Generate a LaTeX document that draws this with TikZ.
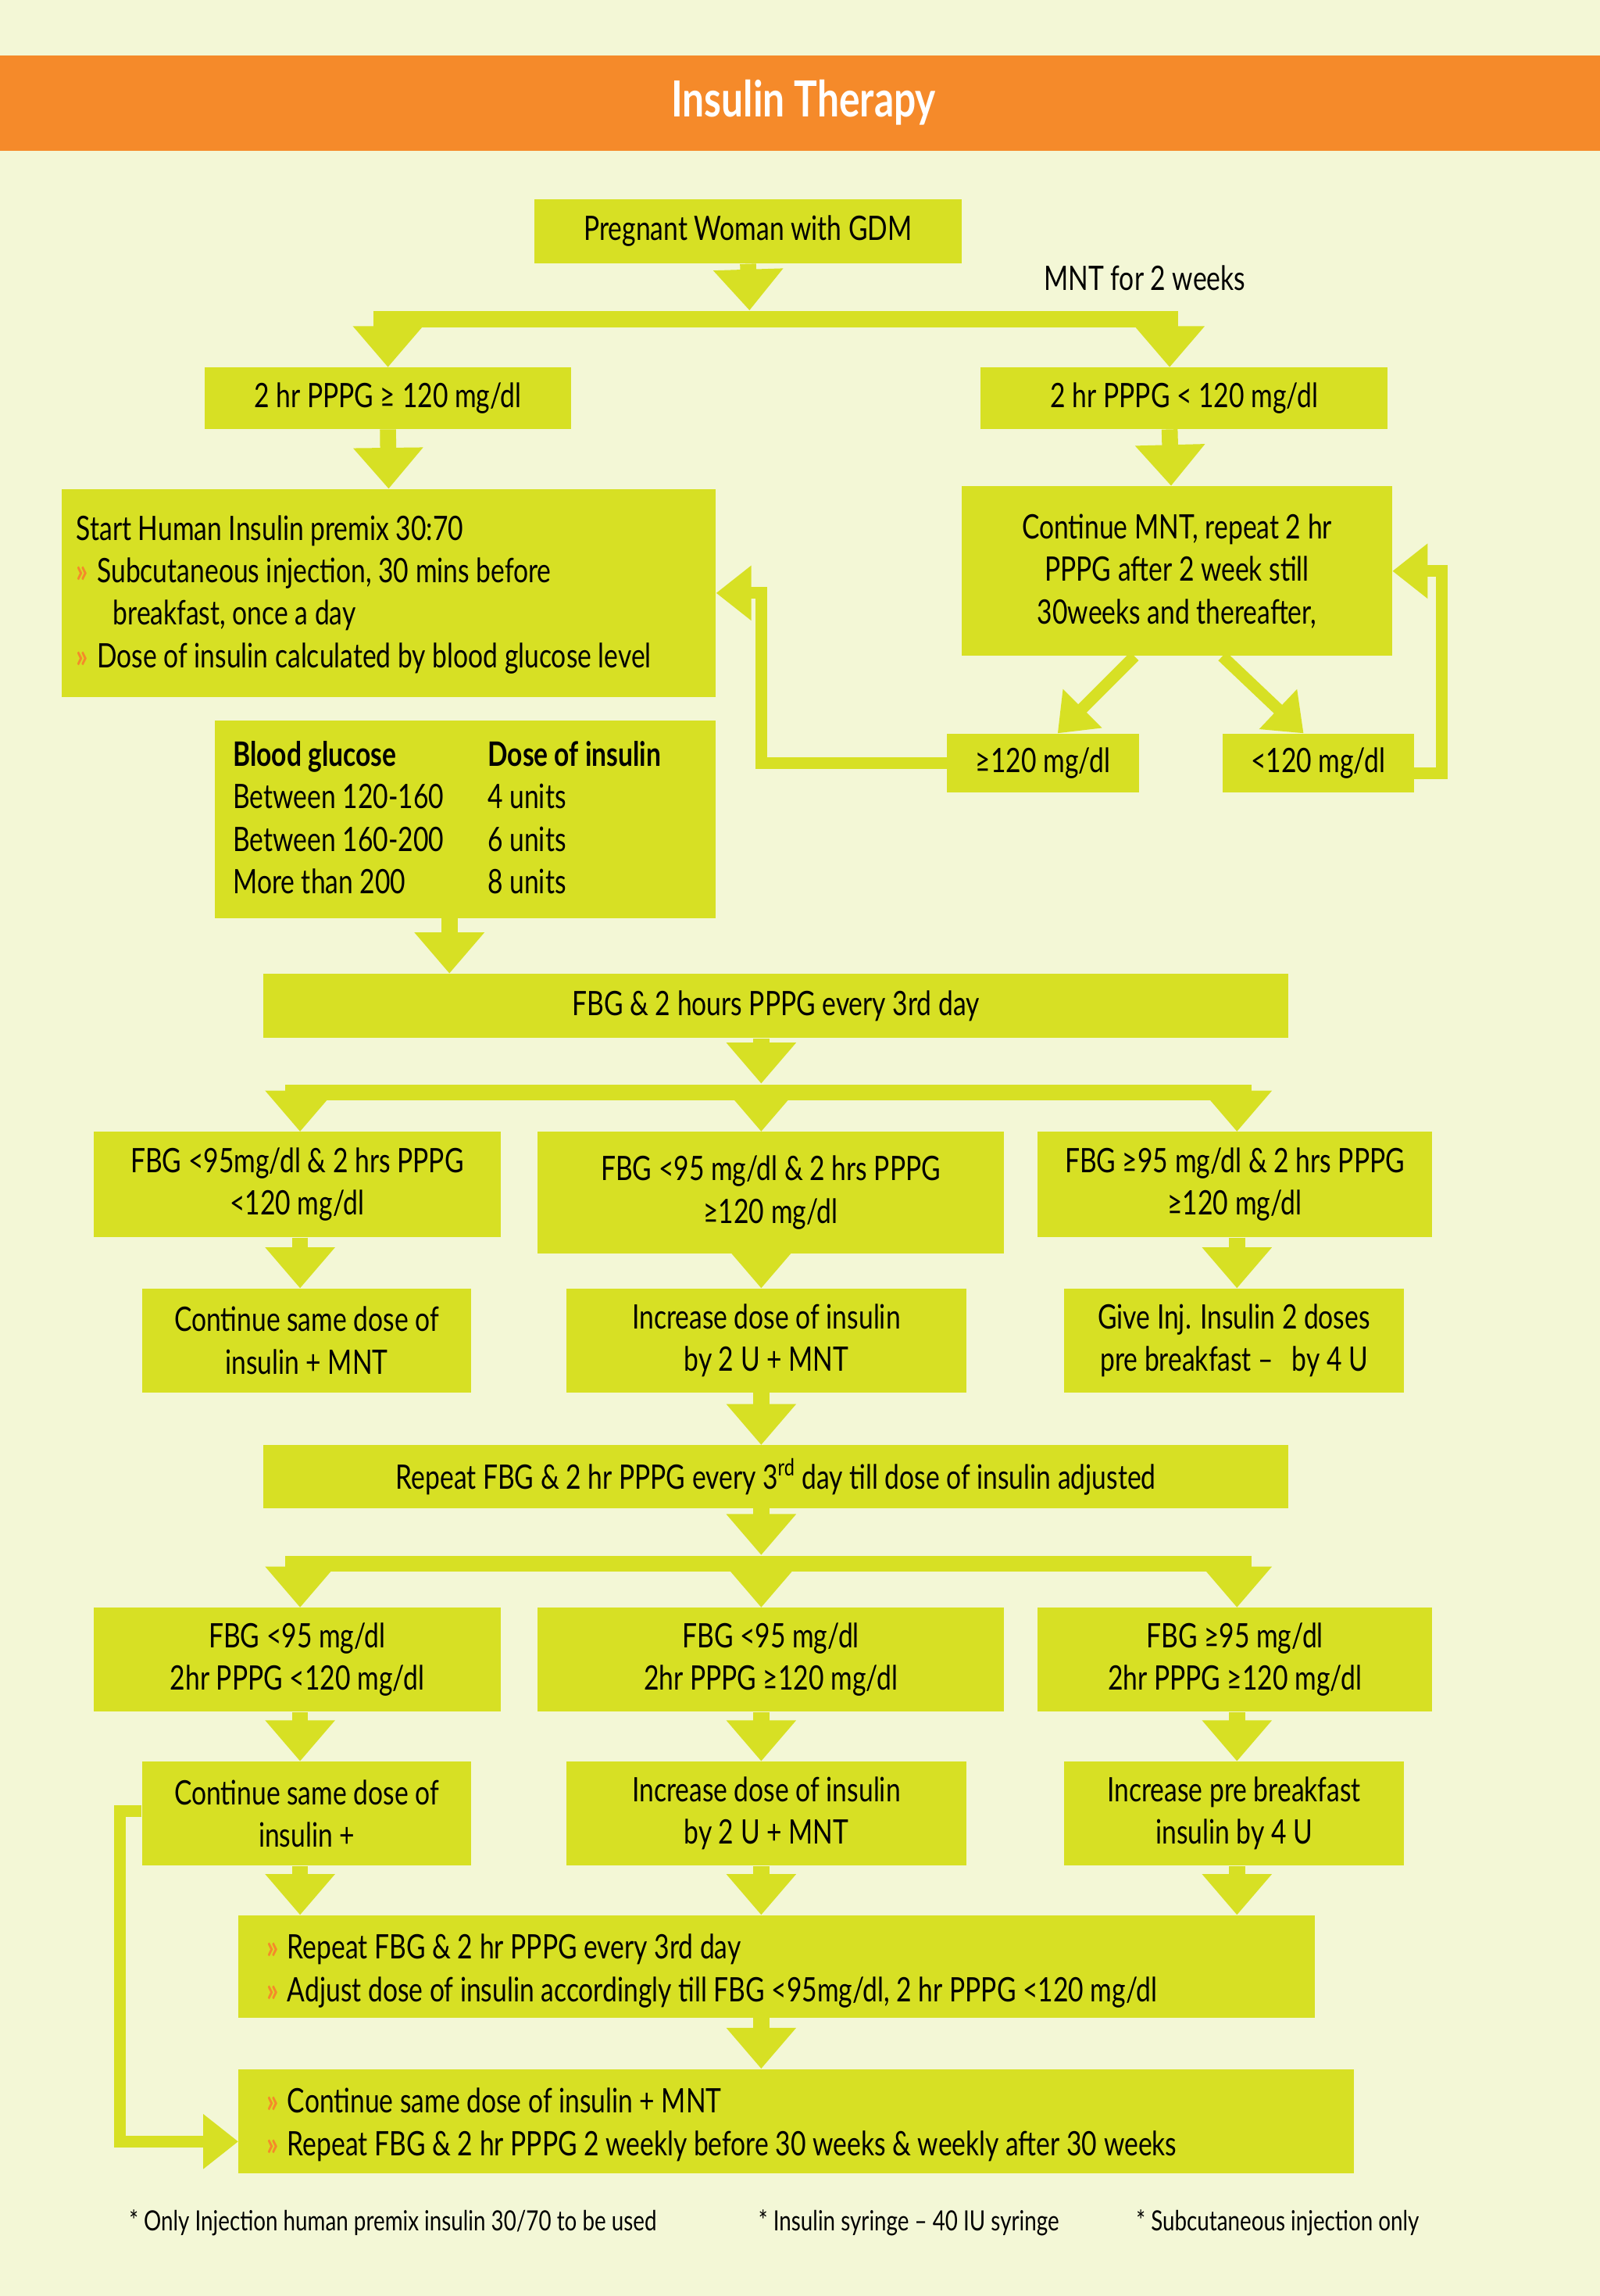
\documentclass[tikz,border=0pt]{standalone}
\usepackage{fontspec}
\setmainfont{Lato}[FakeStretch=0.78]
\usetikzlibrary{arrows.meta}
\definecolor{bg}{HTML}{F3F7D6}
\definecolor{bx}{HTML}{D7E024}
\definecolor{hdr}{HTML}{F58A2A}
\definecolor{chev}{HTML}{F58A2A}
\newcommand{\cv}{\textcolor{chev}{\textbf{»}}\hspace{6pt}}
\newcommand{\bx}[6]{\node[box,minimum width={(#4-#2)*1pt},minimum height={(#5-#3)*1pt}] (#1) at ({(#2+#4)/2},{(#3+#5)/2}) {#6};}
\begin{document}
\begin{tikzpicture}[x=1pt,y=-1pt,
  box/.style={fill=bx,inner sep=0pt,align=center,font=\fontsize{23}{29}\selectfont},
  arr/.style={draw=bx,line width=11pt,-{Triangle[width=46pt,length=28pt]}},
  bar/.style={draw=bx,line width=11pt},
  arrt/.style={draw=bx,line width=8pt,-{Triangle[width=36pt,length=24pt]}},
  lt/.style={font=\fontsize{23}{29}\selectfont,inner sep=0pt}]
\useasboundingbox[fill=bg] (0,0) rectangle (1093,1568);
\fill[hdr] (0,38) rectangle (1093,103);
\node[text=white,font=\fontsize{34}{40}\selectfont\bfseries] (title) at (549,70) {Insulin Therapy};
\bx{b1}{365}{136}{657}{180}{Pregnant Woman with GDM}
\node[lt] (mnt) at (782,190) {MNT for 2 weeks};
\coordinate (j1) at (512,218);
\coordinate (j1l) at (255,218);
\coordinate (j1r) at (805,218);
\draw[arr] (b1.south) -- ([yshift=6pt]j1);
\draw[bar] (j1l) -- (j1r);
\bx{b2l}{140}{251}{390}{293}{2 hr PPPG ≥ 120 mg/dl}
\bx{b2r}{670}{251}{948}{293}{2 hr PPPG < 120 mg/dl}
\draw[arr] (b2l.north |- j1l) -- (b2l.north);
\draw[arr] ([xshift=-10pt]b2r.north |- j1r) -- ([xshift=-10pt]b2r.north);
\bx{b3l}{42}{334}{489}{476}{}
\node[lt,anchor=west,align=left] (b3ltxt) at (52,406) {Start Human Insulin premix 30:70\\ \cv Subcutaneous injection, 30 mins before\\ \hspace*{25pt}breakfast, once a day\\ \cv Dose of insulin calculated by blood glucose level};
\bx{b3r}{657}{332}{951}{448}{Continue MNT, repeat 2 hr\\PPPG after 2 week still\\30weeks and thereafter,}
\draw[arr] (b2l.south) -- (b3l.north);
\draw[arr] ([xshift=-10pt]b2r.south) -- ([xshift=-4pt]b3r.north);
\bx{ge}{647}{501}{778}{541}{≥120 mg/dl}
\bx{lo}{835}{501}{966}{541}{<120 mg/dl}
\draw[arrt] ([xshift=-29pt]b3r.south) -- ([xshift=10pt]ge.north);
\draw[arrt] ([xshift=31pt]b3r.south) -- ([xshift=-10pt]lo.north);
\coordinate (fbl) at (520,405);
\coordinate (fbr) at (985,390);
\draw[arrt] (ge.west) -| (fbl) -- (b3l.east);
\draw[arrt] ([yshift=-7pt]lo.east) -| (fbr) -- (b3r.east |- fbr);
\bx{tbl}{147}{492}{489}{627}{}
\node[lt,anchor=north west,align=left] (tbl1) at (159,506) {\textbf{Blood glucose}\\Between 120-160\\Between 160-200\\More than 200};
\node[lt,anchor=north west,align=left] (tbl2) at (333,506) {\textbf{Dose of insulin}\\4 units\\6 units\\8 units};
\bx{fbg}{180}{665}{880}{709}{FBG \& 2 hours PPPG every 3rd day}
\draw[arr] ([xshift=-11pt]tbl.south) -- ([xshift=-11pt]tbl.south |- fbg.north);
\coordinate (j2) at (520,746);
\coordinate (j2l) at (195,746);
\coordinate (j2r) at (855,746);
\draw[arr] (fbg.south -| j2) -- ([yshift=6pt]j2);
\draw[bar] (j2l) -- (j2r);
\bx{a1}{64}{773}{342}{845}{FBG <95mg/dl \& 2 hrs PPPG\\<120 mg/dl}
\bx{c1}{367}{773}{686}{856}{FBG <95 mg/dl \& 2 hrs PPPG\\≥120 mg/dl}
\bx{d1}{709}{773}{978}{845}{FBG ≥95 mg/dl \& 2 hrs PPPG\\≥120 mg/dl}
\draw[arr] (205,746) -- (a1.north -| 205,0);
\draw[arr] (520,746) -- (c1.north -| 520,0);
\draw[arr] (845,746) -- (d1.north -| 845,0);
\bx{a2}{97}{880}{322}{951}{Continue same dose of\\insulin + MNT}
\bx{c2}{387}{880}{660}{951}{Increase dose of insulin\\by 2 U + MNT}
\bx{d2}{727}{880}{959}{951}{Give Inj. Insulin 2 doses\\pre breakfast –\hspace{8pt} by 4 U}
\draw[arr] (a1.south -| 205,0) -- (a2.north -| 205,0);
\draw[arr] (c1.south -| 520,0) -- (c2.north -| 520,0);
\draw[arr] (d1.south -| 845,0) -- (d2.north -| 845,0);
\bx{rep}{180}{987}{880}{1030}{Repeat FBG \& 2 hr PPPG every 3\textsuperscript{rd} day till dose of insulin adjusted}
\draw[arr] (c2.south -| 520,0) -- (rep.north -| 520,0);
\coordinate (j3) at (520,1068);
\coordinate (j3l) at (195,1068);
\coordinate (j3r) at (855,1068);
\draw[arr] (rep.south -| j3) -- ([yshift=6pt]j3);
\draw[bar] (j3l) -- (j3r);
\bx{a3}{64}{1098}{342}{1169}{FBG <95 mg/dl\\2hr PPPG <120 mg/dl}
\bx{c3}{367}{1098}{686}{1169}{FBG <95 mg/dl\\2hr PPPG ≥120 mg/dl}
\bx{d3}{709}{1098}{978}{1169}{FBG ≥95 mg/dl\\2hr PPPG ≥120 mg/dl}
\draw[arr] (205,1068) -- (a3.north -| 205,0);
\draw[arr] (520,1068) -- (c3.north -| 520,0);
\draw[arr] (845,1068) -- (d3.north -| 845,0);
\bx{a4}{97}{1203}{322}{1274}{Continue same dose of\\insulin +}
\bx{c4}{387}{1203}{660}{1274}{Increase dose of insulin\\by 2 U + MNT}
\bx{d4}{727}{1203}{959}{1274}{Increase pre breakfast\\insulin by 4 U}
\draw[arr] (a3.south -| 205,0) -- (a4.north -| 205,0);
\draw[arr] (c3.south -| 520,0) -- (c4.north -| 520,0);
\draw[arr] (d3.south -| 845,0) -- (d4.north -| 845,0);
\bx{r5}{163}{1308}{898}{1378}{}
\node[lt,anchor=west,align=left] (r5txt) at (182,1346) {\cv Repeat FBG \& 2 hr PPPG every 3rd day\\ \cv Adjust dose of insulin accordingly till FBG <95mg/dl, 2 hr PPPG <120 mg/dl};
\draw[arr] (a4.south -| 205,0) -- (r5.north -| 205,0);
\draw[arr] (c4.south -| 520,0) -- (r5.north -| 520,0);
\draw[arr] (d4.south -| 845,0) -- (r5.north -| 845,0);
\bx{r6}{163}{1413}{925}{1484}{}
\node[lt,anchor=west,align=left] (r6txt) at (182,1451) {\cv Continue same dose of insulin + MNT\\ \cv Repeat FBG \& 2 hr PPPG 2 weekly before 30 weeks \& weekly after 30 weeks};
\draw[arr] (r5.south -| 520,0) -- (r6.north -| 520,0);
\coordinate (fbb) at (82,1237);
\draw[arrt] (a4.west |- fbb) -- (fbb) |- ([yshift=-14pt]r6.west);
\node[lt,anchor=west,font=\fontsize{19}{23}\selectfont] (f1) at (88,1518) {* Only Injection human premix insulin 30/70 to be used};
\node[lt,anchor=west,font=\fontsize{19}{23}\selectfont] (f2) at (518,1518) {* Insulin syringe – 40 IU syringe};
\node[lt,anchor=west,font=\fontsize{19}{23}\selectfont] (f3) at (776,1518) {* Subcutaneous injection only};
\end{tikzpicture}
\end{document}
